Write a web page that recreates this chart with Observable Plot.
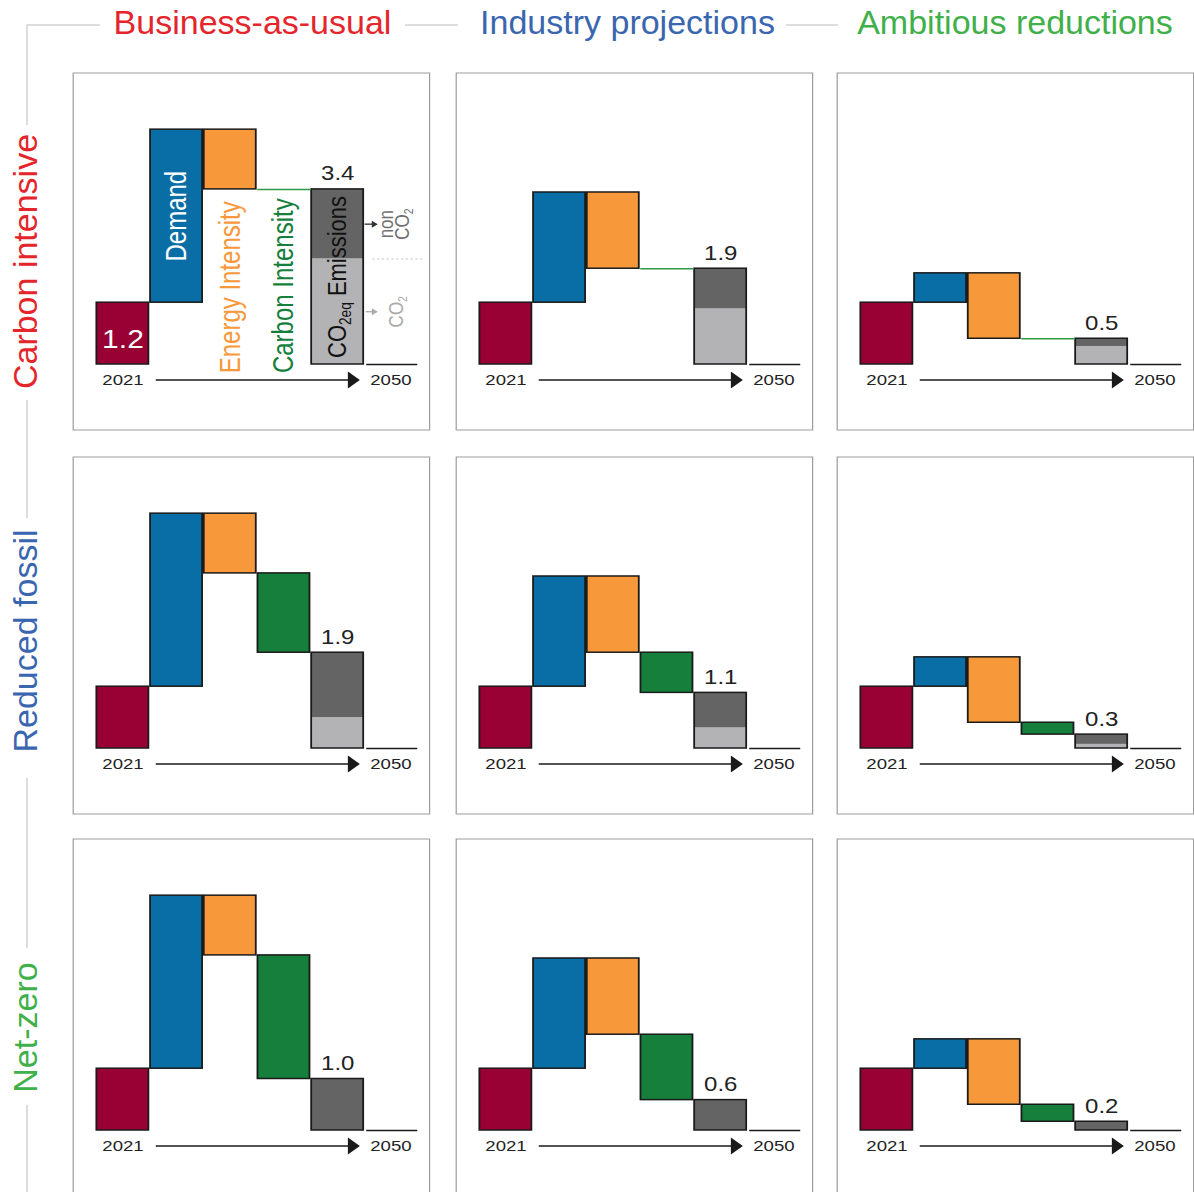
<!DOCTYPE html>
<html><head><meta charset="utf-8">
<script src="https://cdn.jsdelivr.net/npm/d3@7"></script>
<script src="https://cdn.jsdelivr.net/npm/@observablehq/plot@0.6"></script>
<style>
body{margin:0;background:#fff;}
#fig{position:relative;width:1194px;height:1192px;overflow:hidden;background:#fff;}
</style></head><body><div id="fig"></div>
<script>
// ---------- data ----------
const scenarios = ["Business-as-usual", "Industry projections", "Ambitious reductions"];
const scenarioColors = ["#e4262c", "#3a66b0", "#3fb04a"];
const pathways = ["Carbon intensive", "Reduced fossil", "Net-zero"];
const pathwayColors = ["#e4262c", "#3a66b0", "#3fb04a"];
const stepNames = ["2021", "Demand", "Energy Intensity", "Carbon Intensity", "Emissions"];
const start2021 = 1.2;                       // GtCO2eq in 2021
const afterDemand = [4.56, 3.34, 1.77];      // level after demand growth, per scenario
const afterEnergy = [3.40, 1.86, 0.50];      // level after energy intensity, per scenario
// 2050 emissions split (rows = pathways, cols = scenarios)
const co2Part = [[2.05, 1.08, 0.35], [0.60, 0.40, 0.08], [0, 0, 0]];
const nonCo2Part = [[1.35, 0.78, 0.15], [1.26, 0.68, 0.19], [1.00, 0.59, 0.17]];
const emissionLabels = [["3.4", "1.9", "0.5"], ["1.9", "1.1", "0.3"], ["1.0", "0.6", "0.2"]];
const yearLabels = ["2021", "2050"];

// ---------- styles ----------
const colors = {y2021: "#990033", demand: "#0a6ea6", energy: "#f7993b", carbon: "#167f3c",
  nonCo2: "#646464", co2: "#b3b3b5", carbonLine: "#2f9a4a"};
const FONT = "'Liberation Sans', Arial, Helvetica, sans-serif";
const SX = 1.2;              // horizontal stretch of the panels
const PW = 298, PH = 358;    // panel size (before stretch)
const X0 = 19.6, XS = 44.75; // px at step 0, px per step
const BASE = 292, YS = 51.5; // baseline px, px per unit
const colLeft = [72, 455, 836];
const rowTop = [72, 455.5, 838];
const INK = "#1a1a1a";

const headSymbol = {draw(ctx) { ctx.moveTo(-5, -8.5); ctx.lineTo(5, 0); ctx.lineTo(-5, 8.5); ctx.closePath(); }};
const smallHead = {draw(ctx) { ctx.moveTo(-2.5, -3.5); ctx.lineTo(2.5, 0); ctx.lineTo(-2.5, 3.5); ctx.closePath(); }};

const fig = document.getElementById("fig");

function panel(r, c) {
  const co2 = co2Part[r][c], non = nonCo2Part[r][c];
  const total = co2 + non;
  const dLvl = afterDemand[c], eLvl = afterEnergy[c];
  const steps = [
    {i: 0, y1: 0, y2: start2021, fill: colors.y2021},
    {i: 1, y1: start2021, y2: dLvl, fill: colors.demand},
    {i: 2, y1: dLvl, y2: eLvl, fill: colors.energy}
  ];
  const carbonFlat = Math.abs(total - eLvl) < 0.02;
  if (!carbonFlat) steps.push({i: 3, y1: eLvl, y2: total, fill: colors.carbon});
  const emis = [];
  if (co2 > 0) emis.push({y1: 0, y2: co2, fill: colors.co2});
  emis.push({y1: co2, y2: total, fill: colors.nonCo2});

  const marks = [
    Plot.frame({stroke: "#9c9c9c", strokeWidth: 1, inset: 0.5}),
    Plot.rect(steps, {x1: d => d.i, x2: d => d.i + 1, y1: "y1", y2: "y2", fill: "fill",
      stroke: INK, strokeWidth: 1.5, insetLeft: 0.7, insetRight: 0.7}),
    Plot.rect(emis, {x1: () => 4, x2: () => 5, y1: "y1", y2: "y2", fill: "fill",
      insetLeft: 0.7, insetRight: 0.7}),
    Plot.rect([{y1: 0, y2: total}], {x1: () => 4, x2: () => 5, y1: "y1", y2: "y2",
      fill: "none", stroke: INK, strokeWidth: 1.5, insetLeft: 0.7, insetRight: 0.7}),
    // baseline to the right of 2050 bar
    Plot.link([{a: 5.03, b: 5.98, y: 0}], {x1: "a", x2: "b", y1: "y", y2: "y", stroke: INK, strokeWidth: 1.5}),
    // value label
    Plot.text([{y: total, t: emissionLabels[r][c]}], {x: () => 4.5, y: "y", text: "t",
      lineAnchor: "bottom", dy: -9, fontSize: 20, fill: "#222"}),
    // time arrow
    Plot.text([{x: 0.5, t: yearLabels[0]}, {x: 5.49, t: yearLabels[1]}], {x: "x", y: () => -0.3, text: "t",
      fontSize: 15.5, fill: "#222"}),
    Plot.link([{a: 1.11, b: 4.8}], {x1: "a", x2: "b", y1: () => -0.3, y2: () => -0.3, stroke: INK, strokeWidth: 1.5}),
    Plot.dot([{x: 4.8}], {x: "x", y: () => -0.3, symbol: headSymbol, r: 5, fill: INK, stroke: "none"})
  ];
  if (carbonFlat) {
    marks.push(Plot.link([{y: eLvl}], {x1: () => 3, x2: () => 4, y1: "y", y2: "y", stroke: colors.carbonLine, strokeWidth: 1.5}));
  }
  if (r === 0 && c === 0) {
    marks.push(
      Plot.text([{t: "1.2"}], {x: () => 0.5, y: () => start2021 / 2, text: "t", fill: "#fff", fontSize: 25, dy: 6}),
      Plot.text([{t: stepNames[1], x: 1.5, y: (start2021 + dLvl) / 2, f: "#fff", s: 24},
                 {t: stepNames[2], x: 2.5, y: 1.5, f: colors.energy, s: 24},
                 {t: stepNames[3], x: 3.5, y: 1.53, f: colors.carbon, s: 24},
                 {t: "CO_{2eq} " + stepNames[4], x: 4.5, y: 1.7, f: "#111", s: 22}],
        {x: "x", y: "y", text: "t", fill: "f", fontSize: "s", rotate: -90}),
      // non-CO2 annotation
      Plot.link([{a: 5.0, b: 5.18, y: co2 + non / 2}], {x1: "a", x2: "b", y1: "y", y2: "y", stroke: "#333", strokeWidth: 1.3}),
      Plot.dot([{x: 5.19, y: co2 + non / 2}], {x: "x", y: "y", symbol: smallHead, r: 3, fill: "#333", stroke: "none"}),
      Plot.text([{t: "non", x: 5.52}, {t: "CO_{2}", x: 5.82}], {x: "x", y: () => co2 + non / 2, text: "t",
        rotate: -90, lineAnchor: "bottom", fontSize: 17, fill: "#6f6f6f"}),
      // CO2 annotation
      Plot.link([{a: 5.02, b: 5.18, y: co2 / 2}], {x1: "a", x2: "b", y1: "y", y2: "y", stroke: "#aaa", strokeWidth: 1.3}),
      Plot.dot([{x: 5.19, y: co2 / 2}], {x: "x", y: "y", symbol: smallHead, r: 3, fill: "#aaa", stroke: "none"}),
      Plot.text([{t: "CO_{2}", x: 5.72}], {x: "x", y: () => co2 / 2, text: "t",
        rotate: -90, lineAnchor: "bottom", fontSize: 17, fill: "#a9a9a9"}),
      // divider between CO2 and non-CO2
      Plot.link([{a: 5.14, b: 6.07, y: co2}], {x1: "a", x2: "b", y1: "y", y2: "y", stroke: "#c8c8c8", strokeWidth: 1, strokeDasharray: "2,2"})
    );
  }
  const svg = Plot.plot({
    width: PW, height: PH, margin: 0,
    x: {domain: [-X0 / XS, (PW - X0) / XS], axis: null},
    y: {domain: [-(PH - BASE) / YS, BASE / YS], axis: null},
    style: {fontFamily: FONT, overflow: "visible", background: "transparent"},
    marks
  });
  // subscripts
  svg.querySelectorAll("text").forEach(t => {
    const s = t.textContent;
    if (!s.includes("_{")) return;
    const parts = s.split(/_\{([^}]*)\}/);
    t.textContent = "";
    parts.forEach((p, k) => {
      if (!p) return;
      const ts = document.createElementNS("http://www.w3.org/2000/svg", "tspan");
      ts.textContent = p;
      if (k % 2 === 1) { ts.setAttribute("font-size", "0.62em"); ts.setAttribute("dy", "0.32em"); }
      else if (k > 0) { ts.setAttribute("dy", "-0.2em"); }
      t.appendChild(ts);
    });
  });
  svg.style.position = "absolute";
  svg.style.left = colLeft[c] + "px";
  svg.style.top = rowTop[r] + "px";
  svg.style.transformOrigin = "0 0";
  svg.style.transform = `scaleX(${SX})`;
  fig.appendChild(svg);
}
for (let r = 0; r < 3; r++) for (let c = 0; c < 3; c++) panel(r, c);

// ---------- headers, row labels, guide lines ----------
const g = d3.select(fig).append("svg").attr("width", 1194).attr("height", 1192)
  .style("position", "absolute").style("left", 0).style("top", 0)
  .style("font-family", FONT);
const guide = "#d2d2d2";
const hSegs = [[27, 100], [405, 458], [786, 838]];
const vSegs = [[25, 125], [400, 518], [778, 948], [1105, 1192]];
hSegs.forEach(([a, b]) => g.append("line").attr("x1", a).attr("x2", b).attr("y1", 25).attr("y2", 25)
  .attr("stroke", guide).attr("stroke-width", 1.5));
vSegs.forEach(([a, b]) => g.append("line").attr("x1", 27).attr("x2", 27).attr("y1", a).attr("y2", b)
  .attr("stroke", guide).attr("stroke-width", 1.5));
const titleX = [252.5, 627.5, 1015];
scenarios.forEach((s, k) => g.append("text").attr("x", titleX[k]).attr("y", 34)
  .attr("text-anchor", "middle").attr("font-size", 34).attr("fill", scenarioColors[k]).text(s));
const rowY = [261.5, 641, 1027.5];
pathways.forEach((s, k) => g.append("text").attr("transform", `translate(37,${rowY[k]}) rotate(-90)`)
  .attr("text-anchor", "middle").attr("font-size", 34).attr("fill", pathwayColors[k]).text(s));
</script></body></html>
